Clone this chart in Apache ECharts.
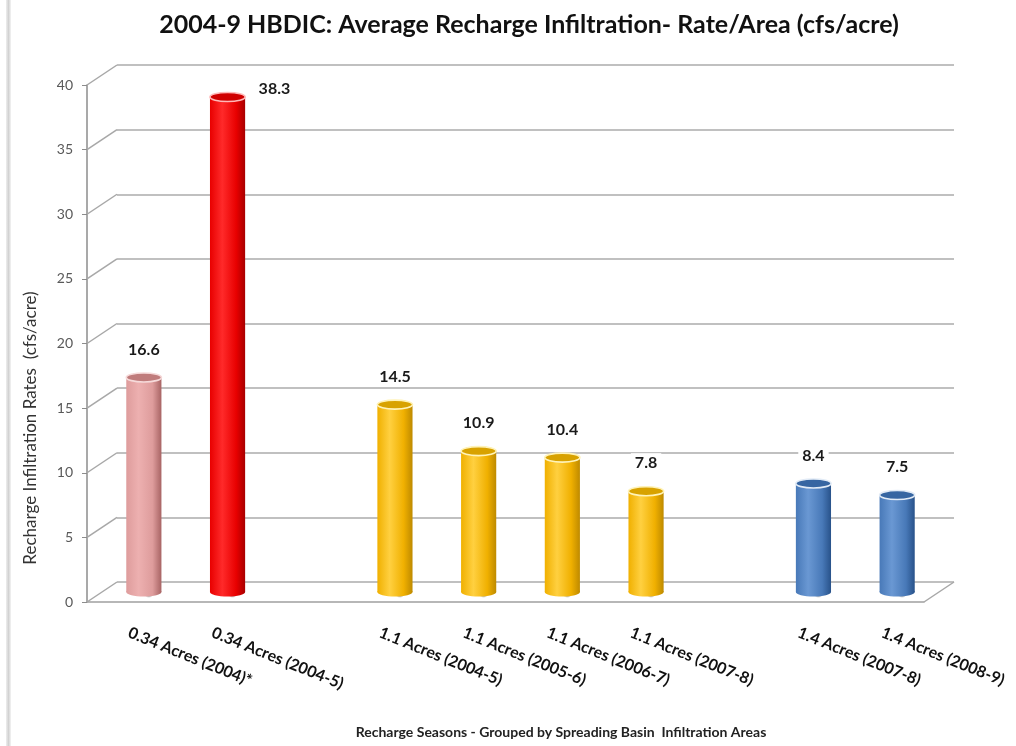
<!DOCTYPE html>
<html>
<head>
<meta charset="utf-8">
<script src="https://cdn.jsdelivr.net/npm/echarts@6/dist/echarts.min.js"></script>
<style>
  html, body { margin: 0; padding: 0; background: #ffffff; }
  #chart { width: 1016px; height: 746px; }
  .edge { position: absolute; left: 6px; top: 0; width: 5px; height: 746px;
          background: linear-gradient(to right, #eeeeee, #d2d2d2, #f4f4f4); }
</style>
</head>
<body>
<div class="edge"></div>
<div id="chart"></div>
<script>
// ---- data ----
const categories = [
  '0.34 Acres (2004)*', '0.34 Acres (2004-5)', '',
  '1.1 Acres (2004-5)', '1.1 Acres (2005-6)', '1.1 Acres (2006-7)', '1.1 Acres (2007-8)', '',
  '1.4 Acres (2007-8)', '1.4 Acres (2008-9)'
];
const rates = [16.6, 38.3, null, 14.5, 10.9, 10.4, 7.8, null, 8.4, 7.5];
const yTicks = [0, 5, 10, 15, 20, 25, 30, 35, 40];

const titleText = '2004-9 HBDIC: Average Recharge Infiltration- Rate/Area (cfs/acre)';
const yAxisTitle = 'Recharge Infiltration Rates  (cfs/acre)';
const xAxisTitle = 'Recharge Seasons - Grouped by Spreading Basin  Infiltration Areas';

// ---- styling ----
const FONT = 'Lato, "Open Sans", sans-serif';
// which cylinder colour each slot uses
const barStyleIndex = [0, 1, null, 2, 2, 2, 2, null, 3, 3];
const cylinderColors = [
  { left: '#DE9C9C', mid: '#EDB0B0', right: '#A86464', top: '#C07C7C', rim: '#F6DADA' },
  { left: '#E80000', mid: '#FF2A2A', right: '#A80000', top: '#D00000', rim: '#FFB8B8' },
  { left: '#F0B000', mid: '#FFD040', right: '#BE8A00', top: '#D8A200', rim: '#FFF3B8' },
  { left: '#4879B8', mid: '#6A98D3', right: '#28528A', top: '#3766A2', rim: '#E2EBF6' }
];

// 3D box: front plane, bar plane (mid depth) and back wall
const DEPTH_X = 30, DEPTH_Y = 20;
const FRONT = { left: 87, top: 85, width: 837, height: 517 };
function shifted(k) {
  return { left: FRONT.left + DEPTH_X * k, top: FRONT.top - DEPTH_Y * k,
           width: FRONT.width, height: FRONT.height };
}
const yMin = yTicks[0], yMax = yTicks[yTicks.length - 1], yStep = yTicks[1] - yTicks[0];

const chart = echarts.init(document.getElementById('chart'));

const barData = [];
rates.forEach((v, i) => { if (v != null) barData.push([i, v, barStyleIndex[i]]); });

function renderCylinder(params, api) {
  const idx = api.value(0), val = api.value(1), styleIdx = api.value(2);
  const c = cylinderColors[styleIdx];
  const top = api.coord([idx, val]);
  const base = api.coord([idx, 0]);
  const band = api.size([1, 0])[0];
  const w = band * 0.42, rx = w / 2, ry = 4.5;
  const cx = top[0];
  const body = {
    type: 'linear', x: 0, y: 0, x2: 1, y2: 0,
    colorStops: [
      { offset: 0, color: c.left }, { offset: 0.35, color: c.mid },
      { offset: 0.75, color: c.left }, { offset: 1, color: c.right }
    ]
  };
  const shadow = {
    type: 'radial', x: 0.5, y: 0.5, r: 0.5,
    colorStops: [
      { offset: 0, color: 'rgba(50,50,50,0.9)' },
      { offset: 0.6, color: 'rgba(90,90,90,0.55)' },
      { offset: 1, color: 'rgba(160,160,160,0)' }
    ]
  };
  // value label: above the top, or beside it when it would leave the plot
  const plotTop = params.coordSys.y;
  let lx = cx, ly = top[1] - 28;
  if (ly < plotTop) { lx = cx + band * 0.56; ly = top[1] - 8; }
  return {
    type: 'group',
    children: [
      { type: 'ellipse', shape: { cx: cx + 5, cy: base[1] + 1, rx: rx * 2.1, ry: 5 },
        style: { fill: shadow } },
      { type: 'ellipse', shape: { cx: cx, cy: base[1], rx: rx, ry: ry },
        style: { fill: body } },
      { type: 'rect', shape: { x: cx - rx, y: top[1], width: w, height: base[1] - top[1] },
        style: { fill: body } },
      { type: 'ellipse', shape: { cx: cx, cy: top[1], rx: rx, ry: ry },
        style: { fill: c.top, stroke: c.rim, lineWidth: 1.6 } },
      { type: 'text', x: lx, y: ly,
        style: { text: val.toFixed(1), align: 'center', verticalAlign: 'middle',
                 font: 'bold 16px ' + FONT, fill: '#1a1a1a',
                 backgroundColor: '#ffffff', padding: [2, 4] } }
    ]
  };
}

// slanted edges joining the front axis to the back wall, plus the floor's right edge
function renderDepthEdges(params, api) {
  const v = api.value(1);
  const band = api.size([1, 0])[0];
  const p = api.coord([0, v]);
  const x0 = p[0] - band / 2;
  const lineStyle = { stroke: '#A8A8A8', lineWidth: 1.5 };
  const children = [
    { type: 'line', shape: { x1: x0, y1: p[1], x2: x0 + DEPTH_X, y2: p[1] - DEPTH_Y }, style: lineStyle }
  ];
  if (v === yMin) {
    const q = api.coord([categories.length - 1, v]);
    const x1 = q[0] + band / 2;
    children.push({ type: 'line', shape: { x1: x1, y1: q[1], x2: x1 + DEPTH_X, y2: q[1] - DEPTH_Y }, style: lineStyle });
  }
  return { type: 'group', children: children };
}

const option = {
  backgroundColor: 'transparent',
  animation: false,
  title: [
    { text: titleText, left: 524, top: 7, textAlign: 'center',
      textStyle: { fontFamily: FONT, fontSize: 25, fontWeight: 'bold', color: '#111111' } },
    { text: xAxisTitle, left: 556, top: 720, textAlign: 'center',
      textStyle: { fontFamily: FONT, fontSize: 14, fontWeight: 'bold', color: '#222222' } }
  ],
  graphic: [
    { type: 'text', x: 31, y: 428, rotation: Math.PI / 2,
      style: { text: yAxisTitle, align: 'center', verticalAlign: 'middle',
               font: '17px ' + FONT, fill: '#333333' } }
  ],
  grid: [
    Object.assign({ containLabel: false }, FRONT),
    Object.assign({ containLabel: false }, shifted(0.5)),
    Object.assign({ containLabel: false }, shifted(1))
  ],
  xAxis: [
    { type: 'category', gridIndex: 0, data: categories, boundaryGap: true,
      axisLine: { show: true, lineStyle: { color: '#A0A0A0', width: 1.5 } },
      axisTick: { show: false },
      axisLabel: { interval: 0, rotate: -22, margin: 30, fontFamily: FONT,
                   fontSize: 16, fontWeight: 'bold', color: '#111111' } },
    { type: 'category', gridIndex: 1, data: categories, boundaryGap: true, show: false },
    { type: 'category', gridIndex: 2, data: categories, boundaryGap: true, show: false }
  ],
  yAxis: [
    { type: 'value', gridIndex: 0, min: yMin, max: yMax, interval: yStep,
      axisLine: { show: true, lineStyle: { color: '#8C8C8C', width: 1.5 } },
      axisTick: { show: true, length: 5, lineStyle: { color: '#8C8C8C' } },
      splitLine: { show: false },
      axisLabel: { margin: 14, fontFamily: FONT, fontSize: 14, color: '#595959' } },
    { type: 'value', gridIndex: 1, min: yMin, max: yMax, interval: yStep, show: false },
    { type: 'value', gridIndex: 2, min: yMin, max: yMax, interval: yStep,
      axisLine: { show: false }, axisTick: { show: false }, axisLabel: { show: false },
      splitLine: { show: true, lineStyle: { color: '#ABABAB', width: 1.6 } } }
  ],
  series: [
    { type: 'custom', xAxisIndex: 0, yAxisIndex: 0, silent: true, z: 1,
      data: yTicks.map(v => [0, v]), renderItem: renderDepthEdges },
    { type: 'custom', xAxisIndex: 1, yAxisIndex: 1, silent: true, z: 5,
      data: barData, renderItem: renderCylinder, clip: false }
  ]
};
chart.setOption(option);
</script>
</body>
</html>
